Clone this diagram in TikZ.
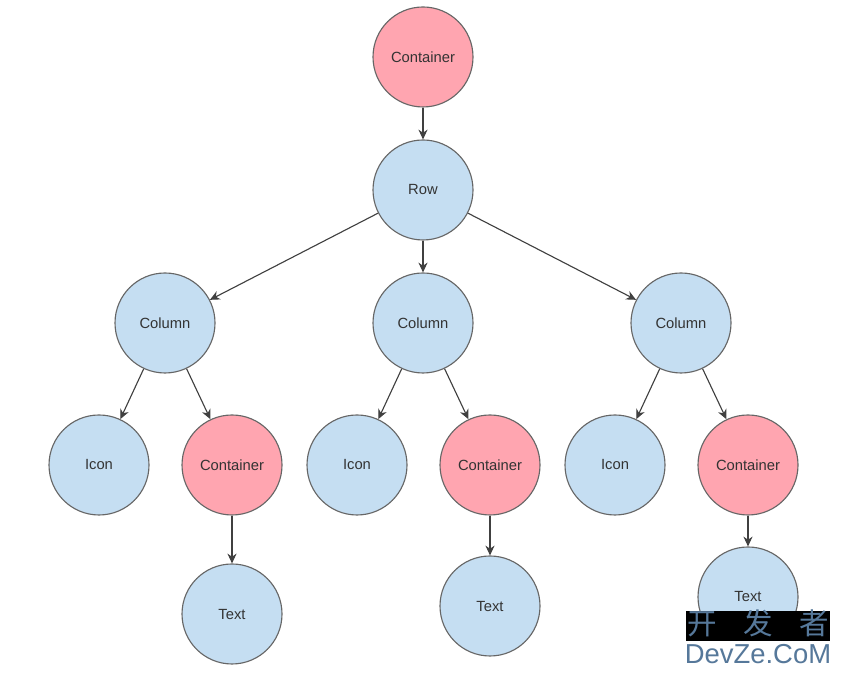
\documentclass[tikz,border=0pt]{standalone}
\usepackage{fontspec}
\setmainfont{Liberation Sans}
\newfontfamily\cjkmark{Noto Sans CJK SC}
\usetikzlibrary{arrows.meta}
\definecolor{vtxblue}{HTML}{C5DEF2}
\definecolor{vtxred}{HTML}{FFA5B0}
\definecolor{vtxline}{HTML}{666666}
\definecolor{markblue}{HTML}{56789A}
\tikzset{vtx/.style={circle,draw=vtxline,minimum size=2.5cm,inner sep=0pt,line width=0.8pt,text=black!80,font=\fontsize{10.5}{12}\selectfont},
  bluevtx/.style={vtx,fill=vtxblue},
  redvtx/.style={vtx,fill=vtxred},
  e/.style={line width=0.8pt,black!75,-{Stealth[length=7pt,width=6.5pt]}},
  markline/.style={inner sep=0pt,text=markblue,anchor=center}
         }

\begin{document}
\begin{tikzpicture}
        \useasboundingbox (0,0) rectangle (21.05,16.9);
        \node[redvtx] (C0) at (10.575,15.475) {Container};
        \node[bluevtx] (R0) at (10.575,12.15) {Row};
        \node[bluevtx] (K1) at (4.125,8.825) {Column};
        \node[bluevtx] (K2) at (10.575,8.825) {Column};
        \node[bluevtx] (K3) at (17.025,8.825) {Column};
        \node[bluevtx] (I1) at (2.475,5.275) {Icon};
        \node[bluevtx] (I2) at (8.925,5.275) {Icon};
        \node[bluevtx] (I3) at (15.375,5.275) {Icon};
        \node[redvtx] (C1) at (5.8,5.275) {Container};
        \node[redvtx] (C2) at (12.25,5.275) {Container};
        \node[redvtx] (C3) at (18.7,5.275) {Container};
        \node[bluevtx] (T1) at (5.8,1.55) {Text};
        \node[bluevtx] (T2) at (12.25,1.75) {Text};
        \node[bluevtx] (T3) at (18.7,1.975) {Text};
        \draw[e] (C0)--(R0);
        \draw[e] (R0)--(K1);
        \draw[e] (R0)--(K2);
        \draw[e] (R0)--(K3);
        \draw[e] (K1)--(I1);
        \draw[e] (K1)--(C1);
        \draw[e] (K2)--(I2);
        \draw[e] (K2)--(C2);
        \draw[e] (K3)--(I3);
        \draw[e] (K3)--(C3);
        \draw[e] (C1)--(T1);
        \draw[e] (C2)--(T2);
        \draw[e] (C3)--(T3);
        % site mark
        \node[markline,fill=black,minimum width=3.6cm,text height=0.6cm,text depth=0.15cm,font=\cjkmark\fontsize{21}{21}\selectfont] (M1) at (18.95,1.25) {开\hspace{0.9em}发\hspace{0.9em}者};
        \node[markline,fill=white,minimum width=3.6cm,minimum height=0.63cm,font=\fontsize{19.5}{19.5}\selectfont] (M2) at (18.95,0.56) {DevZe.CoM};
    \end{tikzpicture}
\end{document}
